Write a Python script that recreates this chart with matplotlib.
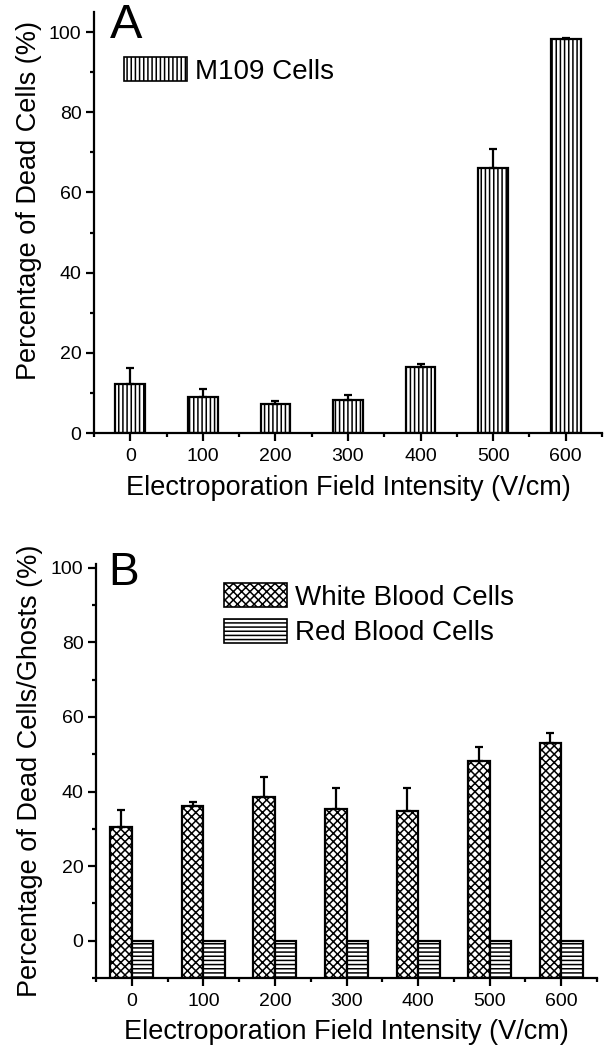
import numpy as np
import matplotlib
matplotlib.use("Agg")
import matplotlib.pyplot as plt
from matplotlib.patches import Patch

# ---- data ----
fields = ["0", "100", "200", "300", "400", "500", "600"]
m109_mean = [12.2, 9.0, 7.3, 8.25, 16.5, 66.0, 98.2]
m109_upper = [16.1, 10.9, 8.0, 9.4, 17.1, 70.8, 98.4]
wbc_mean = [30.6, 36.1, 38.4, 35.3, 34.7, 48.2, 53.0]
wbc_upper = [35.0, 37.3, 43.9, 40.9, 41.0, 51.9, 55.7]
rbc_mean = [0, 0, 0, 0, 0, 0, 0]
yticks_vals = [0, 20, 40, 60, 80, 100]

plt.rcParams['font.family'] = ['Liberation Sans', 'DejaVu Sans']
plt.rcParams['hatch.linewidth'] = 1.1
plt.rcParams['hatch.color'] = 'black'

TICK_FS = 14
LABEL_FS = 19.5
LEG_FS = 20
LW = 1.6

fig = plt.figure(figsize=(6.11, 10.5), dpi=100)
W, H = 611, 1050

def axpos(l, r, t, b):
    return [l / W, 1 - b / H, (r - l) / W, (b - t) / H]

axA = fig.add_axes(axpos(94, 602, 12, 433))
axB = fig.add_axes(axpos(96, 597, 564, 978))

x = np.arange(len(fields))

def style(ax, ylo, yhi, minor_y):
    for s in ['top', 'right']:
        ax.spines[s].set_visible(False)
    for s in ['left', 'bottom']:
        ax.spines[s].set_linewidth(LW)
    ax.set_xlim(-0.5, 6.5)
    ax.set_ylim(ylo, yhi)
    ax.set_xticks(x)
    ax.set_xticklabels(fields)
    ax.set_xticks(np.arange(-0.5, 6.6, 1.0), minor=True)
    ax.set_yticks(yticks_vals)
    ax.set_yticks(minor_y, minor=True)
    ax.tick_params(which='major', direction='out', length=5.5, width=LW,
                   labelsize=TICK_FS, pad=3.5)
    ax.tick_params(which='minor', direction='out', length=3, width=LW)
    ax.tick_params(axis='x', which='major', pad=5)

# ---- panel A ----
style(axA, 0, 105, [10, 30, 50, 70, 90])
wA = 0.41
axA.bar(x, m109_mean, width=wA, color='white', edgecolor='black',
        linewidth=LW, hatch='||||', zorder=2)
errA = np.array(m109_upper) - np.array(m109_mean)
axA.errorbar(x, m109_mean, yerr=[np.zeros_like(errA), errA], fmt='none',
             ecolor='black', elinewidth=LW, capsize=3, capthick=LW, zorder=3)
axA.set_xlabel("Electroporation Field Intensity (V/cm)", fontsize=LABEL_FS)
axA.set_ylabel("Percentage of Dead Cells (%)", fontsize=LABEL_FS)
axA.xaxis.set_label_coords(0.5, -0.1)
axA.yaxis.set_label_coords(-0.102, 0.553)
axA.legend(handles=[Patch(facecolor='white', edgecolor='black', hatch='||||', linewidth=1.2)],
           labels=['M109 Cells'], loc='upper left',
           bbox_to_anchor=(124 / W, 1 - 57 / H), bbox_transform=fig.transFigure,
           frameon=False, fontsize=LEG_FS, handlelength=2.27, handleheight=0.95,
           handletextpad=0.3, borderpad=0, borderaxespad=0)
fig.text(110 / W, 1 - 38 / H, "A", fontsize=35, ha='left', va='baseline')

# ---- panel B ----
ybot = -10
style(axB, ybot, 101, [-10, 10, 30, 50, 70, 90])
wB = 0.3
wbc = np.array(wbc_mean)
rbc = np.array(rbc_mean)
axB.bar(x - wB / 2, wbc - ybot, bottom=ybot, width=wB, color='white',
        edgecolor='black', linewidth=LW, hatch='xxxx', zorder=2)
axB.bar(x + wB / 2, rbc - ybot, bottom=ybot, width=wB, color='white',
        edgecolor='black', linewidth=LW, hatch='----', zorder=2)
errB = np.array(wbc_upper) - wbc
axB.errorbar(x - wB / 2, wbc, yerr=[np.zeros_like(errB), errB], fmt='none',
             ecolor='black', elinewidth=LW, capsize=3, capthick=LW, zorder=3)
axB.set_xlabel("Electroporation Field Intensity (V/cm)", fontsize=LABEL_FS)
axB.set_ylabel("Percentage of Dead Cells/Ghosts (%)", fontsize=LABEL_FS)
axB.xaxis.set_label_coords(0.5, -0.1)
axB.yaxis.set_label_coords(-0.106, 0.5)
axB.legend(handles=[Patch(facecolor='white', edgecolor='black', hatch='xxxx', linewidth=1.2),
                    Patch(facecolor='white', edgecolor='black', hatch='----', linewidth=1.2)],
           labels=['White Blood Cells', 'Red Blood Cells'], loc='upper left',
           bbox_to_anchor=(224 / W, 1 - 583 / H), bbox_transform=fig.transFigure,
           frameon=False, fontsize=LEG_FS, handlelength=2.27, handleheight=0.95,
           handletextpad=0.3, labelspacing=0.3, borderpad=0, borderaxespad=0)
fig.text(108 / W, 1 - 585 / H, "B", fontsize=33, ha='left', va='baseline')

fig.savefig("out.png", dpi=100)
